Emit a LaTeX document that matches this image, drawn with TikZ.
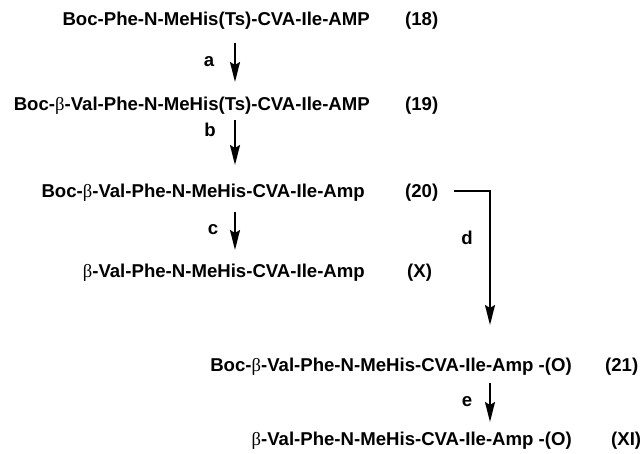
\documentclass[tikz,border=0pt]{standalone}
\usepackage{fontspec}
\setmainfont{Liberation Sans}
\newfontfamily\grk{Liberation Serif}
\usetikzlibrary{arrows.meta}
\newcommand{\bet}{{\grk\mdseries β}}
\tikzset{
  x=1pt, y=1pt,
  cmpd/.style={inner sep=0pt, font=\fontsize{18.6}{20}\selectfont\bfseries},
  num/.style={cmpd, anchor=base west},
  lbl/.style={inner sep=0pt, font=\fontsize{18.6}{20}\selectfont\bfseries},
  rxn/.style={line width=1.9pt, -{Stealth[length=20pt, width=10pt, inset=3pt]}},
}
\begin{document}
\begin{tikzpicture}
\useasboundingbox (0,0) rectangle (641,454);

% compounds
\node[cmpd, anchor=base east] (c18) at (370,428) {Boc-Phe-N-MeHis(Ts)-CVA-Ile-AMP};
\node[num] (n18) at (405,428) {(18)};
\node[cmpd, anchor=base east] (c19) at (370,343) {Boc-\bet-Val-Phe-N-MeHis(Ts)-CVA-Ile-AMP};
\node[num] (n19) at (405,343) {(19)};
\node[cmpd, anchor=base east] (c20) at (365,256) {Boc-\bet-Val-Phe-N-MeHis-CVA-Ile-Amp};
\node[num] (n20) at (405,256) {(20)};
\node[cmpd, anchor=base east] (cX) at (365,176) {\bet-Val-Phe-N-MeHis-CVA-Ile-Amp};
\node[num] (nX) at (407,176) {(X)};
\node[cmpd, anchor=base east] (c21) at (572,82) {Boc-\bet-Val-Phe-N-MeHis-CVA-Ile-Amp -(O)};
\node[num] (n21) at (605,82) {(21)};
\node[cmpd, anchor=base east] (cXI) at (572,8) {\bet-Val-Phe-N-MeHis-CVA-Ile-Amp -(O)};
\node[num] (nXI) at (611,8) {(XI)};

% arrow end points
\coordinate (a1) at (235,411); \coordinate (a2) at (235,372);
\coordinate (b1) at (235,334); \coordinate (b2) at (235,289);
\coordinate (c1) at (235,242); \coordinate (c2) at (235,204);
\coordinate (d1) at (454,263); \coordinate (dk) at (490,263); \coordinate (d2) at (490,129);
\coordinate (e1) at (490,71);  \coordinate (e2) at (490,32);

% reaction arrows
\draw[rxn] (a1) -- (a2);
\draw[rxn] (b1) -- (b2);
\draw[rxn] (c1) -- (c2);
\draw[rxn] (d1) -- (dk) -- (d2);
\draw[rxn] (e1) -- (e2);

% step labels
\node[lbl] (la) at (209,392) {a};
\node[lbl] (lb) at (210,324) {b};
\node[lbl] (lc) at (213,224) {c};
\node[lbl] (ld) at (467,216) {d};
\node[lbl] (le) at (467,52) {e};
\end{tikzpicture}
\end{document}
